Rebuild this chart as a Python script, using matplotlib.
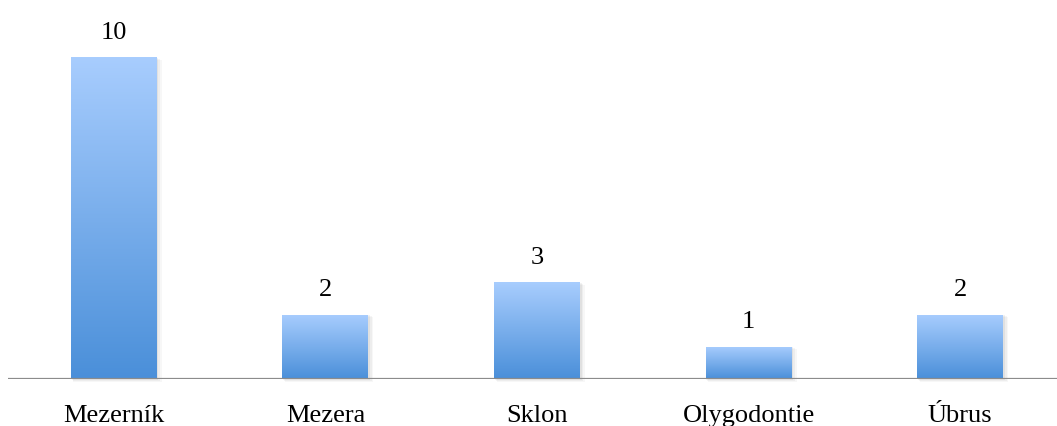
import numpy as np
import matplotlib.pyplot as plt
from matplotlib.colors import LinearSegmentedColormap
from matplotlib.patches import Rectangle

categories = ["Mezerník", "Mezera", "Sklon", "Olygodontie", "Úbrus"]
counts = [10, 2, 3, 1, 2]

plt.rcParams['font.family'] = ['Liberation Serif', 'DejaVu Serif']

fig = plt.figure(figsize=(10.57, 4.27), dpi=100)
ax = fig.add_axes([8/1057, 47/427, 1058/1057, 365/427])

grad = LinearSegmentedColormap.from_list("bar", ["#4a8fd9", "#a8cdfe"])
gimg = np.linspace(0, 1, 256).reshape(-1, 1)
width = 0.406

for i, v in enumerate(counts):
    x0 = i - width/2
    # soft shadow to the right/bottom
    for k, a in enumerate([0.05, 0.04, 0.03]):
        d = 0.004 * (k + 1)
        ax.add_patch(Rectangle((x0 + d, -0.02 - 0.03*k), width + d, v, facecolor="black",
                               alpha=a, edgecolor="none", zorder=1, clip_on=False))
    im = ax.imshow(gimg, cmap=grad, aspect="auto", origin="lower",
                   extent=(x0, x0 + width, 0, v), zorder=2)
    rect = Rectangle((x0, 0), width, v, facecolor="none", edgecolor="none")
    ax.add_patch(rect)
    im.set_clip_path(rect)
    ax.text(i, v + 0.45, str(v), ha="center", va="bottom", fontsize=19)

ax.set_xlim(-0.5, len(categories) - 0.5)
ax.set_ylim(0, 365/32.2)
ax.axhline(0, color="#8c8c8c", lw=1.6, zorder=3)

for s in ax.spines.values():
    s.set_visible(False)
ax.set_yticks([])
ax.set_xticks(range(len(categories)))
ax.set_xticklabels(categories, fontsize=19)
ax.tick_params(axis="x", length=0, pad=18)

fig.savefig("out.png", dpi=100)
